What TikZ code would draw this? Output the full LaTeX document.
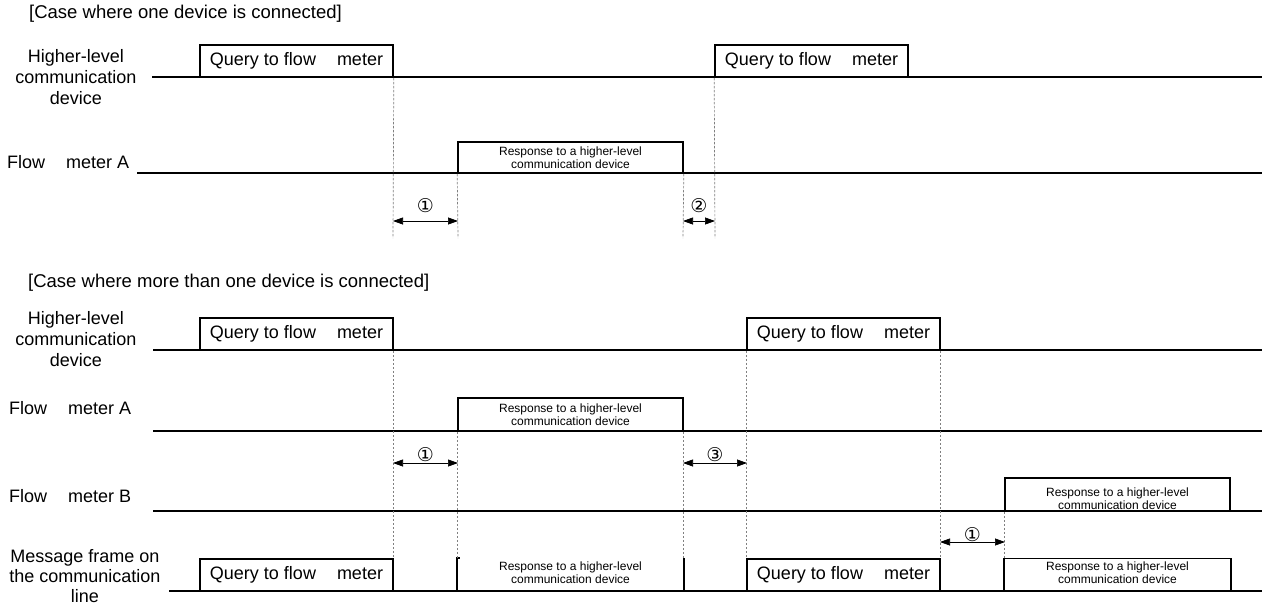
\documentclass[tikz,border=0pt]{standalone}
\usepackage{fontspec}
\setmainfont{Liberation Sans}
\newfontfamily\circfont{DejaVu Sans}
\usetikzlibrary{arrows.meta}
\begin{document}
\begin{tikzpicture}[x=1pt,y=-1pt,
  sig/.style={line width=1.6pt, line join=miter},
  guide/.style={gray, line width=0.7pt, dash pattern=on 2.5pt off 1.5pt},
  gap/.style={line width=0.7pt, {Triangle[length=10pt,width=7pt]}-{Triangle[length=10pt,width=7pt]}},
  lbl/.style={font=\fontsize{18}{21}\selectfont, inner sep=0pt, align=center},
  big/.style={font=\fontsize{18}{21}\selectfont, inner sep=0pt},
  ttl/.style={font=\fontsize{18.5}{21}\selectfont, inner sep=0pt},
  small/.style={font=\fontsize{12}{13.5}\selectfont, inner sep=0pt, align=center},
  num/.style={font=\circfont\fontsize{19}{19}\selectfont, inner sep=0pt},
  qbox/.style={draw, line width=1.6pt, inner sep=0pt, minimum width=193pt, minimum height=32pt, font=\fontsize{18}{21}\selectfont},
  rbox/.style={line width=1.6pt, inner sep=0pt, minimum width=225pt, minimum height=32pt, font=\fontsize{12}{13.5}\selectfont, align=center}
]
\useasboundingbox (0,0) rectangle (1267,603);

% ================= top case =================
\node[ttl, anchor=west] (t1) at (29,14) {[Case where one device is connected]};
\node[lbl] (hl1) at (76,77) {Higher-level\\communication\\device};
\node[big, anchor=west] (fa1) at (7,162) {Flow\hspace{21pt}meter A};

% baselines
\coordinate (h1s) at (152,77);  \coordinate (h1e) at (1262,77);
\coordinate (a1s) at (137,173); \coordinate (a1e) at (1262,173);
\draw[sig] (h1s) -- (h1e);
\draw[sig] (a1s) -- (a1e);

% frames
\node[qbox] (q1) at (296.5,61) {Query to flow\hspace{21pt}meter};
\node[qbox] (q2) at (811.5,61) {Query to flow\hspace{21pt}meter};
\node[rbox, draw, minimum height=31pt] (r1) at (570.5,157.5) {Response to a higher-level\\communication device};

% guides
\coordinate (g1) at (393,238); \coordinate (g2) at (458,238);
\coordinate (g3) at (683,238); \coordinate (g4) at (715,238);
\draw[guide] (q1.south east) -- (g1);
\draw[guide] (r1.south west) -- (g2);
\draw[guide] (r1.south east) -- (g3);
\draw[guide] (q2.south west) -- (g4);

% intervals
\coordinate (i1a) at (393,221); \coordinate (i1b) at (458,221);
\coordinate (i2a) at (683,221); \coordinate (i2b) at (715,221);
\draw[gap] (i1a) -- (i1b);
\draw[gap] (i2a) -- (i2b);
\node[num] (n1) at (425.5,206) {①};
\node[num] (n2) at (699,206) {②};

% ================= bottom case =================
\node[ttl, anchor=west] (t2) at (28,283) {[Case where more than one device is connected]};
\node[lbl] (hl2) at (76,339) {Higher-level\\communication\\device};
\node[big, anchor=west] (fa2) at (9,408) {Flow\hspace{21pt}meter A};
\node[big, anchor=west] (fb) at (9,496) {Flow\hspace{21pt}meter B};
\node[lbl, font=\fontsize{18}{20}\selectfont] (msg) at (85,576) {Message frame on\\the communication\\line};

% baselines
\coordinate (h2s) at (153,350); \coordinate (h2e) at (1262,350);
\coordinate (a2s) at (153,431); \coordinate (a2e) at (1262,431);
\coordinate (b2s) at (153,511); \coordinate (b2e) at (1262,511);
\coordinate (m2s) at (169,591); \coordinate (m2e) at (1262,591);
\draw[sig] (h2s) -- (h2e);
\draw[sig] (a2s) -- (a2e);
\draw[sig] (b2s) -- (b2e);
\draw[sig] (m2s) -- (m2e);

% frames
\node[qbox] (q3) at (296.5,334) {Query to flow\hspace{21pt}meter};
\node[qbox] (q4) at (843.5,334) {Query to flow\hspace{21pt}meter};
\node[rbox, draw, minimum height=33pt] (r2) at (570.5,414.5) {Response to a higher-level\\communication device};
\node[rbox, draw, minimum height=33pt] (r3) at (1117.5,494.5) {};
\node[small] (r3t) at (1117.5,498.5) {Response to a higher-level\\communication device};
\node[qbox] (q5) at (296.5,575) {Query to flow\hspace{21pt}meter};
\node[qbox] (q6) at (843.5,575) {Query to flow\hspace{21pt}meter};
\node[rbox] (r4) at (570.5,575) {};
\node[small] (r4t) at (570.5,572.5) {Response to a higher-level\\communication device};
\node[rbox] (r5) at (1117.5,575) {};
\node[small] (r5t) at (1117.5,572.5) {Response to a higher-level\\communication device};
\draw[sig] (r4.south west) -- (r4.north west) -- ++(3,0);
\draw[sig] (r4.south east) -- (r4.north east);
\draw[sig] (r5.south west) -- (r5.north west);
\draw[sig] (r5.south east) -- (r5.north east);
\draw[line width=0.6pt] (r5.north west) -- (r5.north east);

% guides
\draw[guide] (q3.south east) -- (q5.north east);
\draw[guide] (r2.south west) -- (r4.north west);
\draw[guide] (r2.south east) -- (r4.north east);
\draw[guide] (q4.south west) -- (q6.north west);
\draw[guide] (q4.south east) -- (q6.north east);
\draw[guide] (r3.south west) -- (r5.north west);

% intervals
\coordinate (i3a) at (393,463); \coordinate (i3b) at (458,463);
\coordinate (i4a) at (683,463); \coordinate (i4b) at (747,463);
\coordinate (i5a) at (940,542); \coordinate (i5b) at (1005,542);
\draw[gap] (i3a) -- (i3b);
\draw[gap] (i4a) -- (i4b);
\draw[gap] (i5a) -- (i5b);
\node[num] (n3) at (425.5,455) {①};
\node[num] (n4) at (715,455) {③};
\node[num] (n5) at (972.5,535) {①};
\end{tikzpicture}
\end{document}
